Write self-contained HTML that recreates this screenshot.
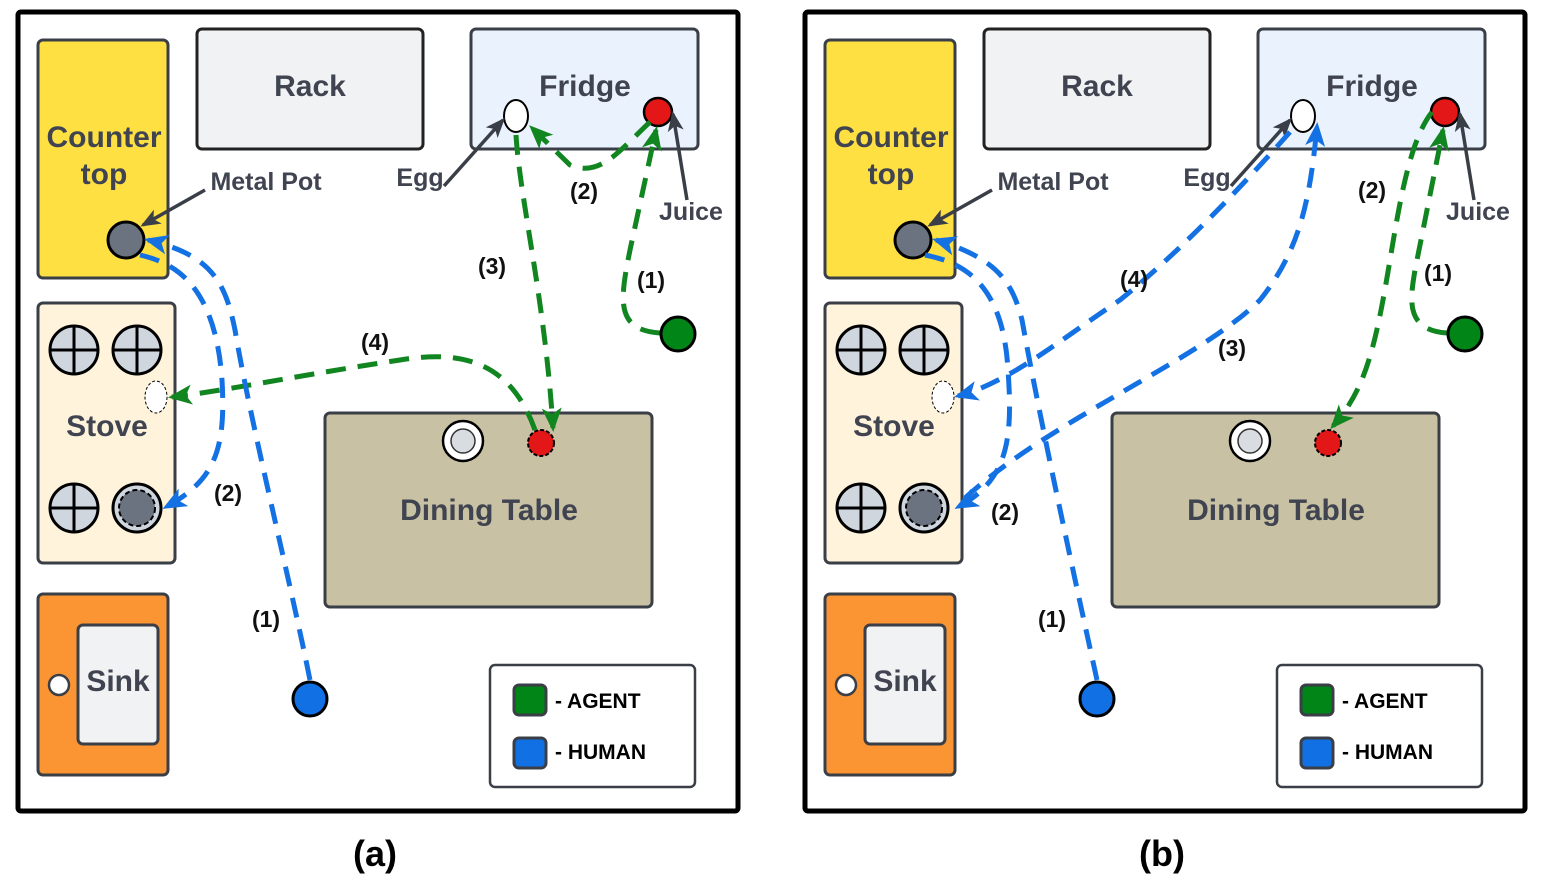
<!DOCTYPE html>
<html><head><meta charset="utf-8"><style>
html,body{margin:0;padding:0;background:#fff;}
svg{display:block;font-family:"Liberation Sans",Arial,sans-serif;}
.lbl{font-weight:bold;fill:#3f4450;text-anchor:middle;}
.num{font-weight:bold;font-size:23px;fill:#111;text-anchor:middle;}
.g{fill:none;stroke:#11851f;stroke-width:5;stroke-dasharray:20 12;}
.b{fill:none;stroke:#1471e3;stroke-width:5;stroke-dasharray:20 12;}
</style></head><body>
<svg width="1545" height="880" viewBox="0 0 1545 880" xmlns="http://www.w3.org/2000/svg" xmlns:xlink="http://www.w3.org/1999/xlink">
<defs>
<marker id="ag" markerUnits="userSpaceOnUse" markerWidth="24" markerHeight="24" refX="20" refY="12" orient="auto" viewBox="0 0 24 24"><path d="M0,2 L24,12 L0,22 L6,12 Z" fill="#11851f"/></marker>
<marker id="ab" markerUnits="userSpaceOnUse" markerWidth="24" markerHeight="24" refX="20" refY="12" orient="auto" viewBox="0 0 24 24"><path d="M0,2 L24,12 L0,22 L6,12 Z" fill="#1471e3"/></marker>
<marker id="ak" markerUnits="userSpaceOnUse" markerWidth="20" markerHeight="20" refX="17" refY="10" orient="auto" viewBox="0 0 20 20"><path d="M0,2 L20,10 L0,18 L5,10 Z" fill="#3a3f47"/></marker>
</defs>
<g id="base">
<rect x="18" y="12" width="720" height="799" fill="#fff" stroke="#000" stroke-width="5" rx="3"/>
<rect x="38" y="40" width="130" height="238" rx="5" fill="#ffe043" stroke="#3a3f47" stroke-width="3"/>
<text class="lbl" x="104" y="147" font-size="30">Counter</text>
<text class="lbl" x="104" y="184" font-size="30">top</text>
<rect x="197" y="29" width="226" height="120" rx="5" fill="#f1f2f4" stroke="#222" stroke-width="3"/>
<text class="lbl" x="310" y="96" font-size="30">Rack</text>
<rect x="471" y="29" width="227" height="120" rx="5" fill="#eaf3fd" stroke="#3a3f47" stroke-width="3"/>
<text class="lbl" x="585" y="96" font-size="30">Fridge</text>
<ellipse cx="516" cy="116" rx="12" ry="16" fill="#fff" stroke="#000" stroke-width="2"/>
<circle cx="658" cy="112" r="14" fill="#e31717" stroke="#000" stroke-width="2.5"/>
<circle cx="126" cy="240" r="18" fill="#6b7280" stroke="#000" stroke-width="3"/>
<text class="lbl" x="266" y="190" font-size="25">Metal Pot</text>
<text class="lbl" x="420" y="186" font-size="25">Egg</text>
<text class="lbl" x="691" y="220" font-size="25">Juice</text>
<line x1="205" y1="190" x2="143" y2="225" stroke="#3a3f47" stroke-width="3.5" marker-end="url(#ak)"/>
<line x1="444" y1="186" x2="503" y2="120" stroke="#3a3f47" stroke-width="3.5" marker-end="url(#ak)"/>
<line x1="687" y1="200" x2="673" y2="114" stroke="#3a3f47" stroke-width="3.5" marker-end="url(#ak)"/>
<rect x="38" y="303" width="137" height="260" rx="5" fill="#fff3dc" stroke="#3a3f47" stroke-width="3"/>
<g stroke="#000" stroke-width="3" fill="#cfd6de">
<circle cx="74" cy="350" r="24"/><path d="M50,350 H98 M74,326 V374"/>
<circle cx="137" cy="350" r="24"/><path d="M113,350 H161 M137,326 V374"/>
<circle cx="74" cy="508" r="24"/><path d="M50,508 H98 M74,484 V532"/>
<circle cx="137" cy="508" r="24"/>
</g>
<circle cx="137" cy="508" r="18" fill="#6b7280" stroke="#000" stroke-width="2" stroke-dasharray="5 3"/>
<ellipse cx="156" cy="397" rx="11" ry="16" fill="#fff" stroke="#000" stroke-width="1" stroke-dasharray="3 2"/>
<text class="lbl" x="107" y="436" font-size="30">Stove</text>
<rect x="38" y="594" width="130" height="181" rx="5" fill="#fb9433" stroke="#3a3f47" stroke-width="3"/>
<rect x="78" y="625" width="80" height="119" rx="5" fill="#f1f2f4" stroke="#3a3f47" stroke-width="3"/>
<circle cx="59" cy="685" r="10" fill="#fff" stroke="#3a3f47" stroke-width="2.5"/>
<text class="lbl" x="118" y="691" font-size="30">Sink</text>
<rect x="325" y="413" width="327" height="194" rx="5" fill="#c9c1a3" stroke="#3a3f47" stroke-width="3"/>
<circle cx="463" cy="441" r="20" fill="#fff" stroke="#000" stroke-width="2.5"/>
<circle cx="463" cy="441" r="12" fill="#d9dde2" stroke="#333" stroke-width="1.5"/>
<circle cx="541" cy="443" r="13" fill="#e31717" stroke="#000" stroke-width="2" stroke-dasharray="4 2"/>
<text class="lbl" x="489" y="520" font-size="30">Dining Table</text>
<rect x="490" y="665" width="205" height="122" rx="5" fill="#fff" stroke="#3a3f47" stroke-width="2.5"/>
<rect x="514" y="685" width="32" height="30" rx="5" fill="#008516" stroke="#3a3f47" stroke-width="3"/>
<rect x="514" y="738" width="32" height="30" rx="5" fill="#1170e3" stroke="#3a3f47" stroke-width="3"/>
<text x="555" y="708" font-size="21" font-weight="bold" fill="#000">- AGENT</text>
<text x="555" y="759" font-size="21" font-weight="bold" fill="#000">- HUMAN</text>
</g>
<use href="#base" xlink:href="#base" transform="translate(787,0)"/>

<path class="g" d="M660,333 C615,330 620,300 630,250 L656,130" marker-end="url(#ag)"/>
<path class="g" d="M650,122 C620,150 600,178 570,165 L532,128" marker-end="url(#ag)"/>
<path class="g" d="M516,135 C520,200 545,300 553,428" marker-end="url(#ag)"/>
<path class="g" d="M535,430 C510,360 460,350 400,360 C300,375 230,390 172,397" marker-end="url(#ag)"/>
<path class="b" d="M310,680 C290,580 250,420 235,330 C225,280 210,255 148,240" marker-end="url(#ab)"/>
<path class="b" d="M140,255 C170,262 215,280 222,380 C226,450 215,480 166,507" marker-end="url(#ab)"/>
<circle cx="678" cy="334" r="17" fill="#008516" stroke="#000" stroke-width="3"/>
<circle cx="310" cy="699" r="17" fill="#1170e3" stroke="#000" stroke-width="3"/>
<text class="num" x="651" y="288">(1)</text>
<text class="num" x="584" y="199">(2)</text>
<text class="num" x="492" y="274">(3)</text>
<text class="num" x="375" y="350">(4)</text>
<text class="num" x="228" y="501">(2)</text>
<text class="num" x="266" y="627">(1)</text>
<text x="375" y="866" font-size="36" font-weight="bold" text-anchor="middle" fill="#000">(a)</text>

<path class="g" d="M1447,333 C1405,330 1410,300 1415,270 L1443,130" marker-end="url(#ag)"/>
<path class="g" d="M1432,112 C1410,140 1400,200 1390,260 C1375,350 1365,390 1333,426" marker-end="url(#ag)"/>
<path class="b" d="M1097,680 C1075,580 1040,420 1022,320 C1012,280 995,258 936,240" marker-end="url(#ab)"/>
<path class="b" d="M925,255 C960,262 1003,280 1008,370 C1013,440 1008,480 958,507" marker-end="url(#ab)"/>
<path class="b" d="M965,498 C1050,420 1200,360 1260,300 C1300,250 1310,200 1317,126" marker-end="url(#ab)"/>
<path class="b" d="M1290,132 C1230,200 1170,260 1120,300 C1060,340 1010,382 958,396" marker-end="url(#ab)"/>
<circle cx="1465" cy="334" r="17" fill="#008516" stroke="#000" stroke-width="3"/>
<circle cx="1097" cy="699" r="17" fill="#1170e3" stroke="#000" stroke-width="3"/>
<text class="num" x="1438" y="281">(1)</text>
<text class="num" x="1372" y="198">(2)</text>
<text class="num" x="1232" y="356">(3)</text>
<text class="num" x="1134" y="287">(4)</text>
<text class="num" x="1005" y="520">(2)</text>
<text class="num" x="1052" y="627">(1)</text>
<text x="1162" y="866" font-size="36" font-weight="bold" text-anchor="middle" fill="#000">(b)</text>
</svg>
</body></html>
